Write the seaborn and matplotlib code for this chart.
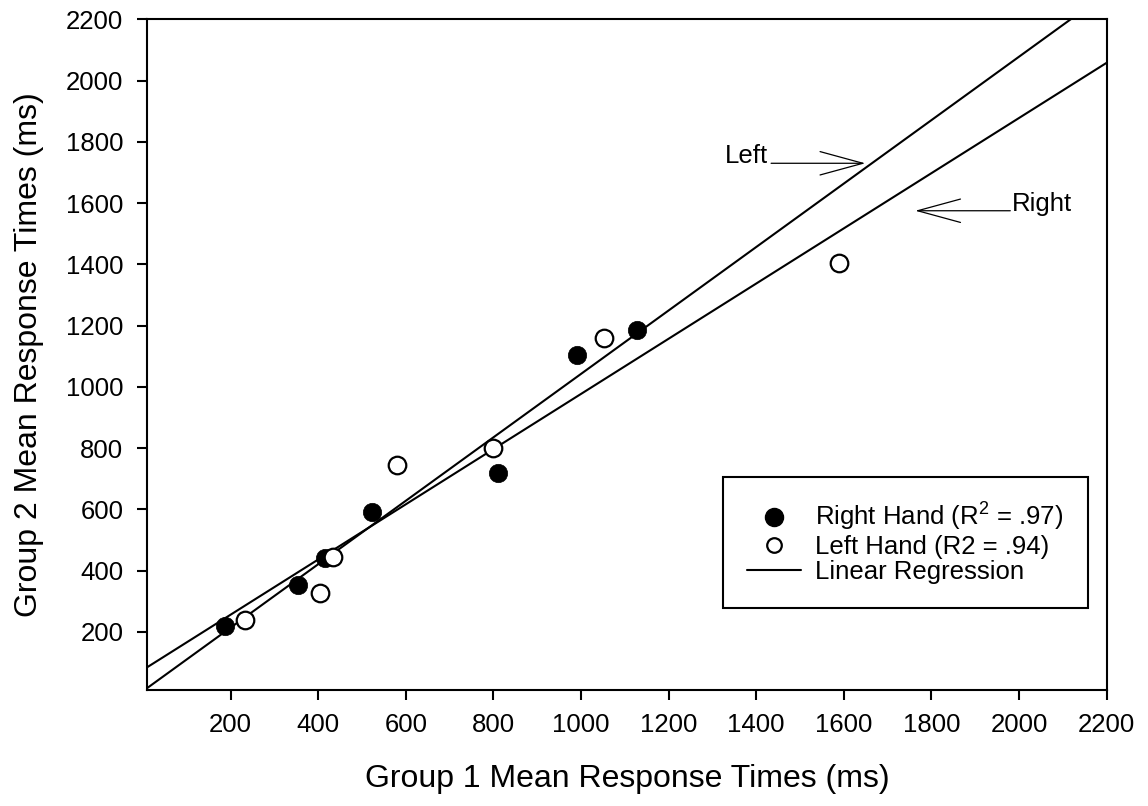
import matplotlib
matplotlib.use("Agg")
import matplotlib.pyplot as plt
from matplotlib.lines import Line2D
import numpy as np
import pandas as pd
import seaborn as sns

# ---- data ----
right_x = [187, 353, 415, 523, 810, 990, 1127]
right_y = [218, 352, 441, 590, 719, 1103, 1184]
left_x = [233, 404, 434, 580, 800, 1052, 1588]
left_y = [237, 327, 445, 746, 800, 1159, 1403]

ticks = [200, 400, 600, 800, 1000, 1200, 1400, 1600, 1800, 2000, 2200]
axis_min, axis_max = 10, 2200

legend_labels = ["Right Hand (R$^2$ = .97)", "Left Hand (R2 = .94)", "Linear Regression"]
xlabel = "Group 1 Mean Response Times (ms)"
ylabel = "Group 2 Mean Response Times (ms)"

# annotation anchors (label, text pos, arrow start, arrow tip)
ann_left = ("Left", (1427, 1730), (1434, 1730), (1649, 1730))
ann_right = ("Right", (1983, 1575), (1980, 1575), (1763, 1575))

sns.set_theme(style="ticks")
plt.rcParams["font.family"] = ["Liberation Sans", "DejaVu Sans"]
plt.rcParams["mathtext.fontset"] = "custom"
plt.rcParams["mathtext.rm"] = "Liberation Sans"
plt.rcParams["mathtext.default"] = "regular"
plt.rcParams["text.color"] = "black"
plt.rcParams["axes.labelcolor"] = "black"
plt.rcParams["xtick.color"] = "black"
plt.rcParams["ytick.color"] = "black"

df_r = pd.DataFrame({"x": right_x, "y": right_y})
df_l = pd.DataFrame({"x": left_x, "y": left_y})

fig = plt.figure(figsize=(11.48, 8.06), dpi=100)
ax = fig.add_axes([0.1283, 0.1439, 0.8357, 0.8321])
ax.set_xlim(axis_min, axis_max)
ax.set_ylim(axis_min, axis_max)

line_kws = dict(color="black", lw=1.5)
sns.regplot(data=df_r, x="x", y="y", ax=ax, scatter=False, ci=None,
            truncate=False, line_kws=line_kws)
sns.regplot(data=df_l, x="x", y="y", ax=ax, scatter=False, ci=None,
            truncate=False, line_kws=line_kws)

sns.scatterplot(data=df_r, x="x", y="y", ax=ax, s=175, color="black",
                edgecolor="black", linewidth=0.5, zorder=3)
sns.scatterplot(data=df_l, x="x", y="y", ax=ax, s=160, color="white",
                edgecolor="black", linewidth=1.6, zorder=3)

ax.set_xlim(axis_min, axis_max)
ax.set_ylim(axis_min, axis_max)
ax.set_xticks(ticks)
ax.set_yticks(ticks)
ax.tick_params(axis="both", direction="out", length=7.2, width=1.5,
               labelsize=18.5, color="black", labelcolor="black")
ax.tick_params(axis="x", pad=9)
ax.tick_params(axis="y", pad=10)
for sp in ax.spines.values():
    sp.set_visible(True)
    sp.set_linewidth(1.5)
    sp.set_color("black")

ax.set_xlabel(xlabel, fontsize=23, labelpad=20, color="black")
ax.set_ylabel(ylabel, fontsize=23, labelpad=16, color="black")

for lab, tpos, start, tip in (ann_left, ann_right):
    ha = "right" if lab == "Left" else "left"
    ax.text(tpos[0], tpos[1], lab, ha=ha, va="baseline", fontsize=18.5, color="black")
    ax.annotate("", xy=tip, xytext=start, xycoords="data", textcoords="data",
                arrowprops=dict(arrowstyle="->,head_length=1.65,head_width=0.45",
                                color="black", lw=0.9, shrinkA=0, shrinkB=0,
                                mutation_scale=18.7))

handles = [
    Line2D([], [], ls="", marker="o", ms=13, mfc="black", mec="black"),
    Line2D([], [], ls="", marker="o", ms=10.5, mfc="white", mec="black", mew=1.6),
    Line2D([], [], color="black", lw=1.5),
]
leg = ax.legend(handles, legend_labels, loc="upper left", bbox_to_anchor=(0.600, 0.318),
                fontsize=18.5, frameon=True, fancybox=False, shadow=False,
                borderpad=0.95, labelspacing=0.05, handlelength=2.1, handletextpad=0.55,
                borderaxespad=0)
leg.get_frame().set_edgecolor("black")
leg.get_frame().set_linewidth(1.5)
leg.get_frame().set_alpha(1)
for t in leg.get_texts():
    t.set_color("black")

fig.savefig("out.png", dpi=100, facecolor="white")
